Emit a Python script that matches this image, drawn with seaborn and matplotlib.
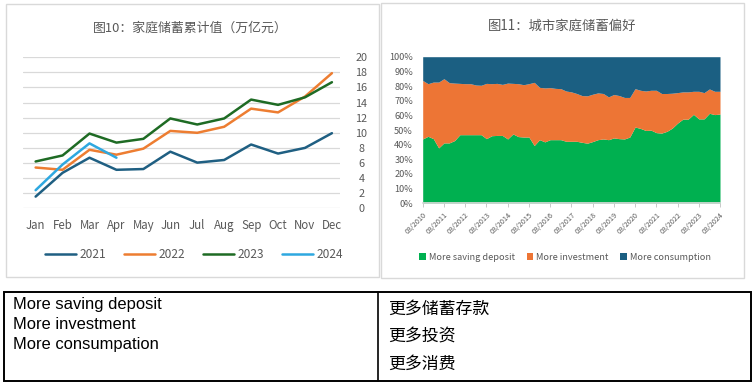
import matplotlib
matplotlib.use("Agg")
import matplotlib.pyplot as plt
from matplotlib.patches import Rectangle, Patch
from matplotlib.lines import Line2D
import seaborn as sns
import pandas as pd
import numpy as np

# ---------------- data ----------------
months = ["Jan", "Feb", "Mar", "Apr", "May", "Jun", "Jul", "Aug", "Sep", "Oct", "Nov", "Dec"]
y2021 = [1.55, 4.7, 6.7, 5.1, 5.2, 7.5, 6.05, 6.4, 8.45, 7.25, 8.0, 9.95]
y2022 = [5.4, 5.1, 7.75, 7.1, 7.9, 10.25, 10.0, 10.8, 13.2, 12.7, 14.8, 17.9]
y2023 = [6.2, 7.0, 9.9, 8.7, 9.2, 11.9, 11.1, 11.9, 14.4, 13.7, 14.7, 16.7]
y2024 = [2.4, 5.8, 8.6, 6.7]
years = ["2021", "2022", "2023", "2024"]
year_colors = ["#1F5F82", "#ED7D31", "#1E6B24", "#2EA8E0"]

quarter_years = list(range(2010, 2025))  # tick labels 03/YYYY
saving = [43.9, 45.7, 44.1, 37.8, 41.2, 41.2, 42.8, 46.8, 46.8, 46.8, 46.8, 46.8, 44.1, 46.1, 46.3,
          46.3, 43.9, 47.3, 45.5, 45.2, 45.2, 39.4, 43.4, 41.9, 43.4, 43.4, 43.4, 42.3, 42.3, 42.3,
          41.6, 41.0, 42.1, 43.4, 43.9, 43.4, 44.6, 44.1, 43.9, 45.2, 52.0, 51.1, 49.7, 49.9, 48.2,
          47.9, 49.1, 51.3, 54.7, 57.4, 57.4, 60.7, 57.6, 57.6, 61.4, 60.5, 60.9]
investment = [39.9, 35.9, 38.6, 44.9, 43.8, 41.1, 39.2, 35.0, 34.8, 34.8, 33.9, 33.7, 37.7, 35.5, 35.5,
              34.8, 38.1, 34.5, 36.1, 35.7, 36.4, 43.1, 35.7, 36.8, 35.5, 35.0, 34.8, 34.3, 33.7, 32.6,
              31.9, 32.3, 32.3, 31.9, 31.0, 29.2, 29.6, 29.4, 28.3, 27.0, 26.2, 26.0, 26.9, 27.2, 28.9,
              27.0, 25.8, 23.8, 20.8, 18.6, 18.6, 15.7, 18.8, 17.9, 16.6, 15.9, 15.5]
consumption = [16.2, 18.4, 17.3, 17.3, 15.0, 17.7, 18.0, 18.2, 18.4, 18.4, 19.3, 19.5, 18.2, 18.4, 18.2,
               18.9, 18.0, 18.2, 18.4, 19.1, 18.4, 17.5, 20.9, 21.3, 21.1, 21.6, 21.8, 23.4, 24.0, 25.1,
               26.5, 26.7, 25.6, 24.7, 25.1, 27.4, 25.8, 26.5, 27.8, 27.8, 21.8, 22.9, 23.4, 22.9, 22.9,
               25.1, 25.1, 24.9, 24.5, 24.0, 24.0, 23.6, 23.6, 24.5, 22.0, 23.6, 23.6]
pref_labels = ["More saving deposit", "More investment", "More consumption"]
pref_colors = ["#00B050", "#ED7535", "#1B5F82"]

table_en = ["More saving deposit", "More investment", "More consumpation"]
table_zh = ["更多储蓄存款", "更多投资", "更多消费"]

# ---------------- style ----------------
sns.set_theme(style="white")
plt.rcParams["font.family"] = ["Noto Sans CJK SC", "DejaVu Sans"]

W, H = 754, 385
fig = plt.figure(figsize=(W / 100, H / 100), dpi=100)
fig.patch.set_facecolor("white")


def fx(x):
    return x / W


def fy(y):
    return 1 - y / H


def box(x0, y0, x1, y1, color, lw):
    fig.add_artist(Rectangle((fx(x0), fy(y1)), fx(x1) - fx(x0), fy(y0) - fy(y1),
                             transform=fig.transFigure, fill=False, edgecolor=color, lw=lw))


# panel borders
box(5.7, 4.3, 379, 277, "#D9D9D9", 1.0)
box(381, 3.3, 744, 278, "#D9D9D9", 1.0)

grey = "#595959"

# ---------------- left chart ----------------
axL = fig.add_axes([fx(22.7), fy(208.3), fx(340) - fx(22.7), fy(57.3) - fy(208.3)])
rows = []
for yr, vals in zip(years, [y2021, y2022, y2023, y2024]):
    for i, v in enumerate(vals):
        rows.append({"month": i, "value": v, "year": yr})
dfL = pd.DataFrame(rows)
sns.lineplot(data=dfL, x="month", y="value", hue="year", palette=dict(zip(years, year_colors)),
             linewidth=1.8, ax=axL, legend=False)
axL.set_xlim(-0.48, 11.3)
axL.set_ylim(0, 20)
axL.set_yticks(np.arange(0, 21, 2))
axL.set_xticks(range(12))
axL.set_xticklabels(months)
axL.yaxis.tick_right()
axL.grid(axis="y", color="#D9D9D9", lw=0.9)
axL.set_axisbelow(True)
for s in axL.spines.values():
    s.set_visible(False)
axL.tick_params(axis="y", length=0, pad=15.5, labelsize=7.8, labelcolor=grey)
axL.tick_params(axis="x", length=0, pad=8, labelsize=8.3, labelcolor=grey)
for lab in axL.get_yticklabels():
    lab.set_ha("center")
axL.set_xlabel("")
axL.set_ylabel("")
fig.text(fx(190), fy(28), "图10：家庭储蓄累计值（万亿元）", ha="center", va="center",
         fontsize=9.3, color=grey)
handlesL = [Line2D([0], [0], color=c, lw=1.8) for c in year_colors]
fig.legend(handlesL, years, loc="center", bbox_to_anchor=(fx(194), fy(255)), ncol=4,
           frameon=False, fontsize=8.6, handlelength=2.6, handletextpad=0.3,
           columnspacing=1.5, labelcolor=grey)

# ---------------- right chart ----------------
axR = fig.add_axes([fx(422.7), fy(203.3), fx(720) - fx(422.7), fy(56.7) - fy(203.3)])
xq = np.arange(len(saving))
axR.stackplot(xq, saving, investment, consumption, colors=pref_colors, lw=0)
axR.set_xlim(0, len(saving) - 1)
axR.set_ylim(0, 100)
axR.set_yticks(np.arange(0, 101, 10))
axR.set_yticklabels([f"{v}%" for v in range(0, 101, 10)])
axR.set_xticks(np.arange(0, len(saving), 4))
axR.set_xticklabels([f"03/{y}" for y in quarter_years], rotation=45, ha="right",
                    rotation_mode="anchor")
for k, s in axR.spines.items():
    s.set_visible(k == "bottom")
axR.spines["bottom"].set_color("#D9D9D9")
axR.tick_params(axis="y", length=0, pad=7, labelsize=6.6, labelcolor=grey)
axR.tick_params(axis="x", length=3, width=0.6, color="#BFBFBF", pad=2.5, labelsize=5.2,
                labelcolor=grey, bottom=True)
fig.text(fx(562), fy(26), "图11：城市家庭储蓄偏好", ha="center", va="center",
         fontsize=9.6, color=grey)
handlesR = [Patch(facecolor=c, edgecolor="none") for c in pref_colors]
fig.legend(handlesR, pref_labels, loc="center", bbox_to_anchor=(fx(565), fy(257)), ncol=3,
           frameon=False, fontsize=6.6, handlelength=0.75, handleheight=0.75,
           handletextpad=0.3, columnspacing=1.3, labelcolor=grey)

# ---------------- table ----------------
box(4, 292, 750.5, 381, "black", 1.4)
fig.add_artist(Line2D([fx(377.5), fx(377.5)], [fy(292), fy(381)], transform=fig.transFigure,
                      color="black", lw=1.2))
for i, t in enumerate(table_en):
    fig.text(fx(13), fy(305 + 19.5 * i), t, ha="left", va="center", fontsize=11.9,
             family=["Liberation Sans", "DejaVu Sans"], color="black")
for i, t in enumerate(table_zh):
    fig.text(fx(388), fy(309 + 27.5 * i), t, ha="left", va="center", fontsize=12.2,
             family=["Noto Sans CJK SC", "DejaVu Sans"], color="black")

fig.savefig("out.png", dpi=100)
